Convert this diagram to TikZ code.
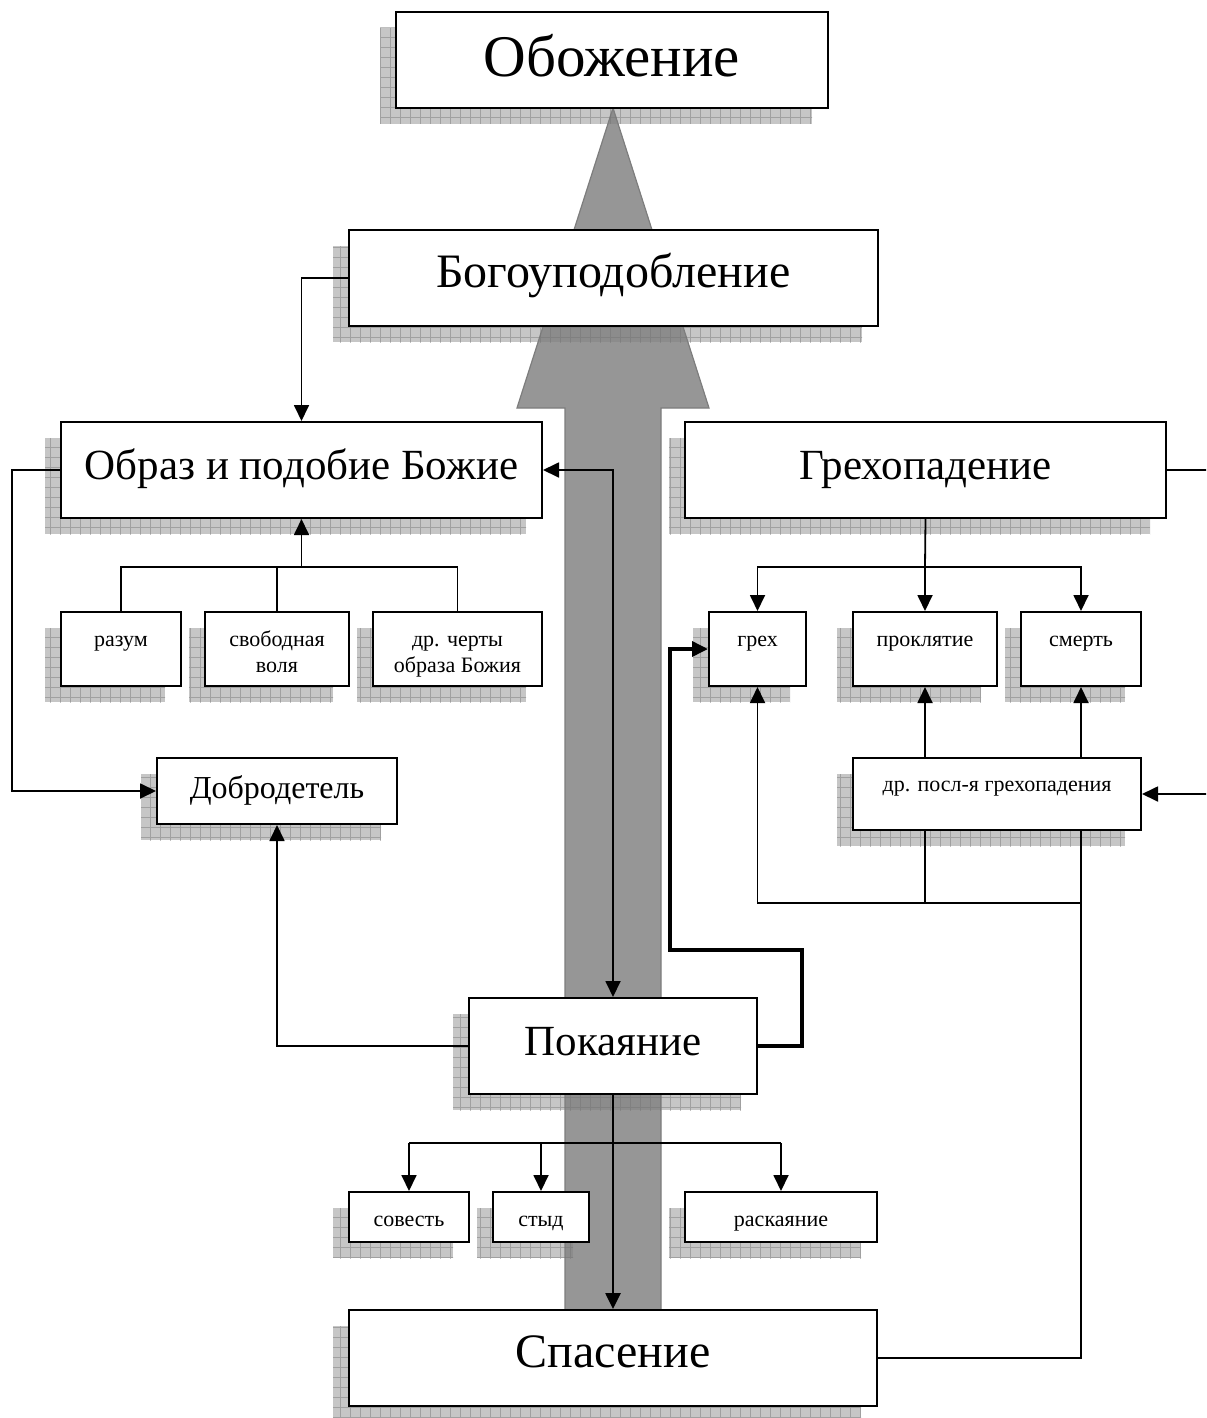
\documentclass[tikz,border=0pt]{standalone}
\usepackage{fontspec}
\setmainfont{Liberation Serif}
\usetikzlibrary{arrows.meta,shadows,patterns.meta}
\definecolor{arrowfill}{RGB}{150,150,150}
\definecolor{arrowedge}{RGB}{125,125,125}
\newcommand\twoline[2]{\begin{tabular}[t]{@{}c@{}}#1\\#2\end{tabular}}

\begin{document}
\begin{tikzpicture}[x=0.5pt,y=-0.5pt,
  box/.style={draw,line width=1pt,fill=white,inner sep=2pt,
    drop shadow={shadow xshift=-8pt,shadow yshift=-8pt,opacity=.45,fill=black!50,
      postaction={pattern={Hatch[distance=5pt,line width=.5pt]},pattern color=black!55}}},
  title/.style={box,font=\fontsize{29.5}{35}\selectfont,text height=21pt,text depth=4.5pt,minimum height=48pt},
  head/.style={box,font=\fontsize{21.5}{26}\selectfont,text height=15.4pt,text depth=5.5pt,minimum height=48pt},
  bighead/.style={head,font=\fontsize{24}{29}\selectfont},
  mid/.style={box,font=\fontsize{16}{19}\selectfont,text height=11.2pt,text depth=4pt},
  small/.style={box,font=\fontsize{11}{13}\selectfont,text height=8pt,text depth=11pt,minimum height=37pt},
  low/.style={box,font=\fontsize{11}{13}\selectfont,text height=9pt,text depth=0pt,minimum height=25pt},
  conn/.style={line width=.9pt},
  arr/.style={conn,-{Triangle[width=7.5pt,length=8pt]}},
  arrboth/.style={conn,{Triangle[width=7.5pt,length=8pt]}-{Triangle[width=7.5pt,length=8pt]}}]
\path[use as bounding box,clip] (0,0) rectangle (1206,1418);

\filldraw[fill=arrowfill,draw=arrowedge,line width=.6pt] (613,108) -- (709,408) -- (661,408)
  -- (661,1310) -- (565,1310) -- (565,408) -- (517,408) -- cycle;

\node[title,minimum width=216pt] (obozh) at (612,60) {Обожение};
\node[bighead,minimum width=264.5pt] (bogopod) at (613.5,278) {Богоуподобление};
\node[head,minimum width=240.5pt] (obraz) at (301.5,470) {Образ и подобие Божие};
\node[head,minimum width=240.5pt] (grehpad) at (925.5,470) {Грехопадение};
\node[small,minimum width=60pt] (razum) at (121,649) {разум};
\node[small,minimum width=72pt] (volya) at (277,649) {\twoline{свободная}{воля}};
\node[small,minimum width=84.5pt] (cherty) at (457.5,649) {\twoline{др. черты}{образа Божия}};
\node[small,minimum width=48.5pt] (greh) at (757.5,649) {грех};
\node[small,minimum width=72pt] (proklyat) at (925,649) {проклятие};
\node[small,minimum width=60pt] (smert) at (1081,649) {смерть};
\node[mid,minimum width=120pt,minimum height=33pt] (dobro) at (277,791) {Добродетель};
\node[small,minimum width=144pt,minimum height=36pt] (posledst) at (997,794) {др. посл-я грехопадения};
\node[head,minimum width=144pt] (pokay) at (613,1046) {Покаяние};
\node[low,minimum width=60pt] (sovest) at (409,1217) {совесть};
\node[low,minimum width=48pt] (styd) at (541,1217) {стыд};
\node[low,minimum width=96pt] (raskay) at (781,1217) {раскаяние};
\node[bighead,minimum width=264pt] (spas) at (613,1358) {Спасение};

\coordinate (obrazfork) at (301.5,567);
\coordinate (grehfork) at (925,567);
\coordinate (loopcorner) at (1081,903);
\coordinate (pokayfork) at (613,1143);

\draw[arr] (bogopod.west) -| (obraz.north);
\draw[arr] (obraz.west) -- ++(-48,0) |- (dobro.west);
\draw[arrboth] (obraz.east) -| (pokay.north);
\draw[conn] (razum.north) |- (cherty.north |- obrazfork) -- (cherty.north);
\draw[conn] (volya.north) -- (volya.north |- obrazfork);
\draw[arr] (obrazfork) -- (obraz.south);

\draw[conn] (grehpad.south) -- (grehfork);
\draw[arr] (grehfork) -| (greh.north);
\draw[arr] (grehfork) -| (smert.north);
\draw[arr] (grehfork) -- (proklyat.north);
\draw[arr] (grehpad.east) -- ++(60,0) |- (posledst.east);
\draw[arr] (posledst.north -| proklyat) -- (proklyat.south);
\draw[arr] (posledst.north -| smert) -- (smert.south);
\draw[conn] (posledst.south -| proklyat) -- (proklyat |- loopcorner);
\draw[arr] (loopcorner) -| (greh.south);
\draw[conn] (spas.east) -| (posledst.south -| smert);

\draw[arr,line width=1.8pt] (pokay.east) -- ++(44,0) |- ++(-132,-96) |- (greh.west);
\draw[arr] (pokay.west) -| (dobro.south);
\draw[arr,line width=1.3pt] (pokay.south) -- (spas.north);
\draw[conn] (sovest.north |- pokayfork) -- (raskay.north |- pokayfork);
\foreach \n in {sovest,styd,raskay}
  \draw[arr] (\n.north |- pokayfork) -- (\n.north);
\end{tikzpicture}
\end{document}
